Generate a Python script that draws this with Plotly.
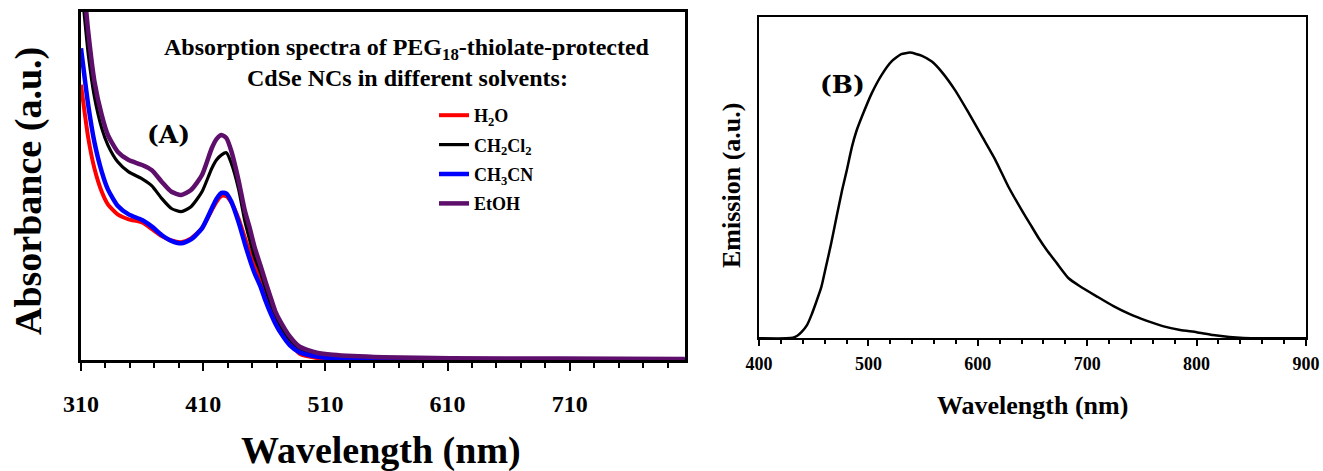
import plotly.graph_objects as go

# ---------------- data ----------------
wl_abs = [310, 313, 316, 321, 327, 332, 340, 349, 360, 368, 376, 384, 392, 400, 409, 417, 421, 425,
          429, 433, 439, 444, 448, 452, 457, 461, 465, 469, 473, 481, 489, 503, 516, 557, 612, 700, 804]
abs_h2o = [0.79, 0.71, 0.636, 0.55, 0.483, 0.447, 0.418, 0.404, 0.395, 0.376, 0.356, 0.343, 0.338, 0.349,
           0.378, 0.43, 0.455, 0.471, 0.47, 0.452, 0.405, 0.352, 0.31, 0.27, 0.225, 0.187, 0.15, 0.118,
           0.09, 0.05, 0.018, 0.006, 0.003, 0.002, 0.002, 0.001, 0.001]
abs_ch2cl2 = [1.09, 0.98, 0.876, 0.755, 0.665, 0.617, 0.569, 0.54, 0.52, 0.50, 0.464, 0.435, 0.426, 0.44,
              0.483, 0.55, 0.575, 0.589, 0.595, 0.565, 0.49, 0.40, 0.345, 0.295, 0.25, 0.205, 0.163, 0.13,
              0.10, 0.058, 0.033, 0.016, 0.01, 0.006, 0.004, 0.003, 0.002]
abs_ch3cn = [0.895, 0.81, 0.73, 0.625, 0.54, 0.49, 0.443, 0.418, 0.402, 0.383, 0.359, 0.342, 0.335, 0.346,
             0.378, 0.435, 0.463, 0.48, 0.478, 0.455, 0.395, 0.335, 0.29, 0.25, 0.21, 0.17, 0.135, 0.105,
             0.08, 0.042, 0.022, 0.01, 0.005, 0.003, 0.002, 0.002, 0.001]
abs_etoh = [1.16, 1.05, 0.94, 0.80, 0.703, 0.646, 0.598, 0.574, 0.56, 0.545, 0.512, 0.483, 0.474, 0.488,
            0.531, 0.608, 0.635, 0.646, 0.637, 0.60, 0.515, 0.43, 0.38, 0.325, 0.27, 0.225, 0.182, 0.14,
            0.112, 0.067, 0.038, 0.021, 0.015, 0.008, 0.005, 0.004, 0.003]

series_names = ["H<sub>2</sub>O", "CH<sub>2</sub>Cl<sub>2</sub>", "CH<sub>3</sub>CN", "EtOH"]

wl_em = [400, 425, 431, 435, 439, 444, 448, 452, 457, 461, 466, 471, 476, 480, 485, 489, 494, 503, 512,
         521, 530, 538, 549, 558, 567, 579, 591, 604, 616, 628, 640, 648, 656, 663, 672, 683, 693, 709,
         724, 739, 754, 769, 785, 800, 815, 830, 843, 860, 900]
emission = [0, 0, 0.002, 0.008, 0.02, 0.042, 0.073, 0.11, 0.16, 0.22, 0.296, 0.38, 0.462, 0.52, 0.597,
            0.645, 0.69, 0.763, 0.82, 0.862, 0.885, 0.89, 0.88, 0.862, 0.83, 0.774, 0.706, 0.628, 0.556,
            0.472, 0.40, 0.355, 0.31, 0.275, 0.235, 0.187, 0.163, 0.13, 0.10, 0.075, 0.055, 0.038, 0.026,
            0.019, 0.010, 0.004, 0.001, 0, 0]

# ---------------- layout helpers ----------------
W, H = 1323, 471
def px(x):
    return x / W
def py(y):
    return 1 - y / H

FONT = "Liberation Serif"
LBL = "DejaVu Serif"

fig = go.Figure()

styles = [("#ff0000", 4), ("#000000", 3.2), ("#0000ff", 4.5), ("#5e0f6c", 4.5)]
for name, ys, (col, w) in zip(series_names, [abs_h2o, abs_ch2cl2, abs_ch3cn, abs_etoh], styles):
    fig.add_trace(go.Scatter(x=wl_abs, y=ys, mode="lines", name=name, legendgroup=name,
                             line=dict(color=col, width=w, shape="spline", smoothing=0.6),
                             xaxis="x", yaxis="y"))

fig.add_trace(go.Scatter(x=wl_em, y=emission, mode="lines", showlegend=False,
                         line=dict(color="black", width=2.5, shape="spline", smoothing=0.5),
                         xaxis="x2", yaxis="y2"))

# left panel: x 81..685, y 11.7..360 ; right panel: x 759..1306, y 17.3..338.3 (window pixels)
left_xmax = 310 + (685 - 81) / 1.222

fig.update_layout(
    width=W, height=H,
    margin=dict(l=0, r=0, t=0, b=0, autoexpand=False),
    paper_bgcolor="white", plot_bgcolor="white",
    xaxis=dict(domain=[px(81), px(685)], range=[310, left_xmax], tickmode="linear", tick0=310, dtick=100,
               ticks="outside", ticklen=8, tickwidth=2, tickcolor="black",
               minor=dict(dtick=20, tick0=310, ticks="outside", ticklen=5, tickwidth=2, tickcolor="black"),
               showline=True, mirror=True, linewidth=3, linecolor="black", showgrid=False, zeroline=False,
               tickfont=dict(family=FONT, size=24, color="black", weight="bold"), ticklabelstandoff=12,
               automargin=False, anchor="y"),
    yaxis=dict(domain=[py(360), py(11.7)], range=[0, 1], showticklabels=False, ticks="",
               showline=True, mirror=True, linewidth=3, linecolor="black", showgrid=False, zeroline=False,
               automargin=False, anchor="x"),
    xaxis2=dict(domain=[px(759), px(1306)], range=[400, 900], tickmode="linear", tick0=400, dtick=100,
                ticks="outside", ticklen=6, tickwidth=1.5, tickcolor="black",
                minor=dict(dtick=20, tick0=400, ticks="outside", ticklen=4, tickwidth=1.5, tickcolor="black"),
                showline=True, mirror=True, linewidth=2, linecolor="black", showgrid=False, zeroline=False,
                tickfont=dict(family=FONT, size=18, color="black", weight="bold"), ticklabelstandoff=2,
                automargin=False, anchor="y2"),
    yaxis2=dict(domain=[py(338.3), py(17.3)], range=[0, 1], showticklabels=False, ticks="",
                showline=True, mirror=True, linewidth=2, linecolor="black", showgrid=False, zeroline=False,
                automargin=False, anchor="x2"),
    showlegend=True,
    legend=dict(x=px(434), y=py(97), xanchor="left", yanchor="top", bgcolor="rgba(0,0,0,0)",
                font=dict(family=FONT, size=18, color="black", weight="bold"),
                tracegroupgap=3, traceorder="grouped", itemwidth=30),
)

def ann(text, x, y, size, family=FONT, angle=0):
    fig.add_annotation(text=text, x=px(x), y=py(y), xref="paper", yref="paper", showarrow=False,
                       xanchor="center", yanchor="middle", textangle=angle,
                       font=dict(family=family, size=size, color="black", weight="bold"))

ann("Absorption spectra of PEG<sub>18</sub>-thiolate-protected", 407, 49, 24)
ann("CdSe NCs in different solvents:", 407, 78, 24)
ann("(A)", 168, 135, 25, family=LBL)
ann("(B)", 842, 85, 25, family=LBL)
ann("Wavelength (nm)", 381, 450, 38)
ann("Absorbance (a.u.)", 28, 191, 38, angle=-90)
ann("Wavelength (nm)", 1032, 405, 26)
ann("Emission (a.u.)", 731, 186, 26, angle=-90)

# remove the default page margin so the figure sits at the window's top-left corner
fig.write_html("out.html", config={"displayModeBar": False},
               post_script="document.body.style.margin='0';document.body.style.overflow='hidden';")
